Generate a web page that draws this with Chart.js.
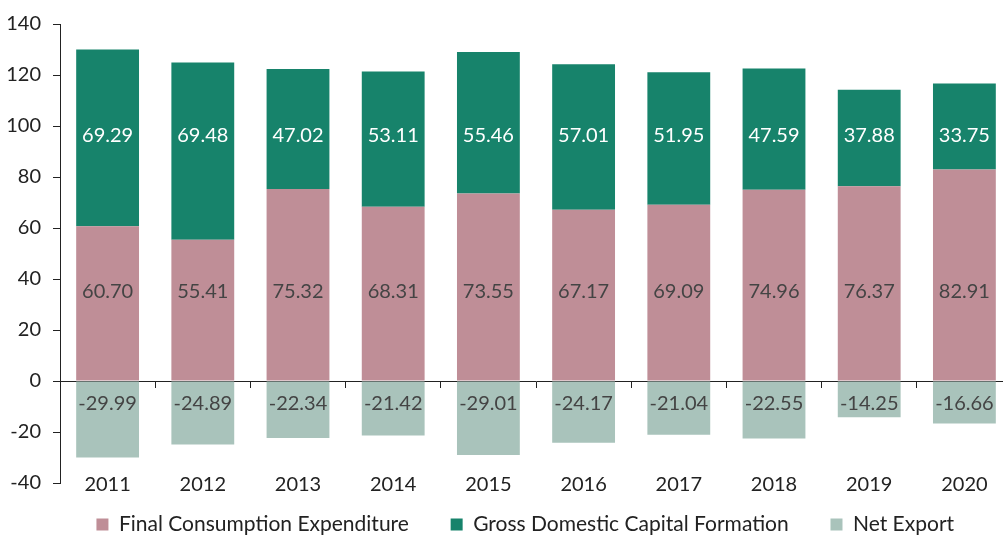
<!DOCTYPE html>
<html>
<head>
  <title>GDP by expenditure</title>
  <script src="https://cdn.jsdelivr.net/npm/chart.js@4.4.0/dist/chart.umd.min.js"></script>
  <style>
    body {
      margin: 0;
      background-color: white;
      overflow: hidden;
    }

    .chart-container {
      width: 1050px;
      height: 535px;
    }
  </style>
</head>
<body>
  <div class="chart-container">
    <canvas id="gdpChart"></canvas>
  </div>

  <script>
    const years = ['2011', '2012', '2013', '2014', '2015', '2016', '2017', '2018', '2019', '2020'];
    const consumption = [60.70, 55.41, 75.32, 68.31, 73.55, 67.17, 69.09, 74.96, 76.37, 82.91];
    const capitalFormation = [69.29, 69.48, 47.02, 53.11, 55.46, 57.01, 51.95, 47.59, 37.88, 33.75];
    const netExport = [-29.99, -24.89, -22.34, -21.42, -29.01, -24.17, -21.04, -22.55, -14.25, -16.66];

    const fontFamily = 'Lato, "Open Sans", sans-serif';
    const axisColor = '#222';

    // labels sit at a fixed height per series, like the original
    const labelRows = [
      { dataset: 0, at: 35, color: '#444' },
      { dataset: 1, at: 96.3, color: '#fff' },
      { dataset: 2, at: -8.7, color: '#444' }
    ];

    const valueLabels = {
      id: 'valueLabels',
      afterDatasetsDraw(chart) {
        const ctx = chart.ctx;
        const yScale = chart.scales.y;
        ctx.save();
        ctx.font = '20px ' + fontFamily;
        ctx.textAlign = 'center';
        ctx.textBaseline = 'middle';
        labelRows.forEach(row => {
          const meta = chart.getDatasetMeta(row.dataset);
          const values = chart.data.datasets[row.dataset].data;
          ctx.fillStyle = row.color;
          meta.data.forEach((bar, i) => {
            ctx.fillText(values[i].toFixed(2), bar.x, yScale.getPixelForValue(row.at));
          });
        });
        ctx.restore();
      }
    };

    const ctx = document.getElementById('gdpChart').getContext('2d');
    new Chart(ctx, {
      type: 'bar',
      data: {
        labels: years,
        datasets: [
          {
            label: 'Final Consumption Expenditure',
            data: consumption,
            backgroundColor: '#bf8e97'
          },
          {
            label: 'Gross Domestic Capital Formation',
            data: capitalFormation,
            backgroundColor: '#17836b'
          },
          {
            label: 'Net Export',
            data: netExport,
            backgroundColor: '#a9c3bb'
          }
        ]
      },
      options: {
        responsive: true,
        maintainAspectRatio: false,
        animation: false,
        datasets: {
          bar: {
            barPercentage: 0.66,
            categoryPercentage: 1
          }
        },
        layout: {
          padding: { left: 0, right: 38, top: 12, bottom: -10 }
        },
        plugins: {
          tooltip: { enabled: false },
          legend: {
            position: 'bottom',
            fullSize: false,
            labels: {
              boxWidth: 12,
              boxHeight: 12,
              padding: 31,
              color: axisColor,
              font: { family: fontFamily, size: 21 },
              generateLabels(chart) {
                const items = Chart.defaults.plugins.legend.labels.generateLabels(chart);
                items.forEach((item, i) => {
                  item.text += (i < items.length - 1) ? '  ' : '    ';
                });
                return items;
              }
            }
          }
        },
        scales: {
          x: {
            stacked: true,
            position: { y: -40 },
            grid: { display: false },
            border: { display: false },
            ticks: {
              color: axisColor,
              padding: -18,
              font: { family: fontFamily, size: 20 }
            }
          },
          x2: {
            type: 'category',
            offset: true,
            position: { y: 0 },
            grid: {
              offset: true,
              drawOnChartArea: false,
              drawTicks: true,
              tickLength: 6,
              color: axisColor
            },
            border: { display: true, color: axisColor, width: 1 },
            ticks: { display: false }
          },
          y: {
            stacked: true,
            min: -40,
            max: 140,
            ticks: {
              stepSize: 20,
              color: axisColor,
              padding: 12,
              font: { family: fontFamily, size: 20 }
            },
            grid: {
              drawOnChartArea: false,
              drawTicks: true,
              tickLength: 7,
              color: axisColor
            },
            border: { display: true, color: axisColor, width: 1 },
            afterFit(scale) {
              scale.width = 60;
            }
          }
        }
      },
      plugins: [valueLabels]
    });
  </script>
</body>
</html>
